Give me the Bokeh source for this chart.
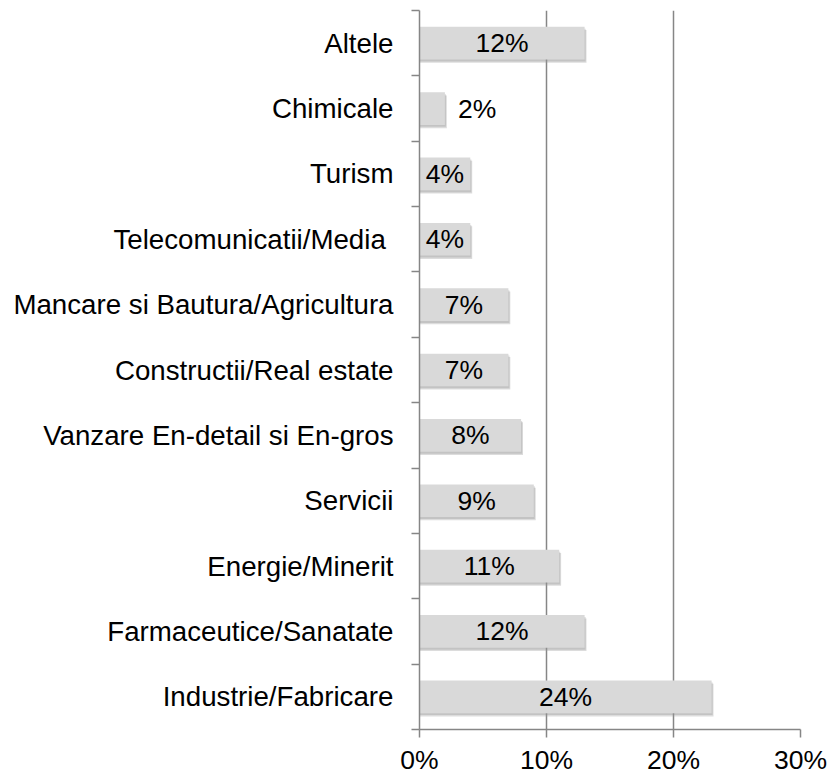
from bokeh.plotting import figure
from bokeh.models import ColumnDataSource, Range1d, FixedTicker, LabelSet
from bokeh.core.properties import value
from bokeh.embed import file_html
from bokeh.resources import INLINE

# Data (bottom to top)
categories = ["Industrie/Fabricare", "Farmaceutice/Sanatate", "Energie/Minerit",
              "Servicii", "Vanzare En-detail si En-gros", "Constructii/Real estate",
              "Mancare si Bautura/Agricultura", "Telecomunicatii/Media ", "Turism",
              "Chimicale", "Altele"]
values = [23, 13, 11, 9, 8, 7, 7, 4, 4, 2, 13]
value_labels = ["24%", "12%", "11%", "9%", "8%", "7%", "7%", "4%", "4%", "2%", "12%"]
x_ticks = [0, 10, 20, 30]
x_tick_labels = ["0%", "10%", "20%", "30%"]

idx = list(range(len(categories)))
FONT = "Liberation Sans"
GRID = "#868686"

p = figure(width=831, height=777, output_backend="svg", toolbar_location=None,
           x_range=Range1d(0, 30), y_range=Range1d(-0.5, len(categories) - 0.5))
p.min_border_left = 419
p.min_border_right = 31
p.min_border_top = 10
p.min_border_bottom = 0
p.outline_line_color = None
p.background_fill_color = "white"

# shadows
shadow_src = ColumnDataSource(dict(y=[i - 0.05 for i in idx], right=[v + 0.15 for v in values]))
p.hbar(y="y", left=0, right="right", height=0.5, source=shadow_src,
       fill_color="#9a9a9a", fill_alpha=0.35, line_color=None)
shadow_src2 = ColumnDataSource(dict(y=[i - 0.03 for i in idx], right=[v + 0.08 for v in values]))
p.hbar(y="y", left=0, right="right", height=0.5, source=shadow_src2,
       fill_color="#8a8a8a", fill_alpha=0.3, line_color=None)

src = ColumnDataSource(dict(y=idx, right=values))
p.hbar(y="y", left=0, right="right", height=0.5, source=src,
       fill_color="#d9d9d9", line_color=None)

inside = ColumnDataSource(dict(y=[i for i, v in zip(idx, values) if v >= 3],
                               x=[v / 2 for v in values if v >= 3],
                               lab=[l for l, v in zip(value_labels, values) if v >= 3]))
outside = ColumnDataSource(dict(y=[i for i, v in zip(idx, values) if v < 3],
                                x=[v for v in values if v < 3],
                                lab=[l for l, v in zip(value_labels, values) if v < 3]))
p.add_layout(LabelSet(x="x", y="y", text="lab", source=inside, text_align="center",
                      text_baseline="middle", text_font=value(FONT),
                      text_font_size="26.5px", text_color="black"))
p.add_layout(LabelSet(x="x", y="y", text="lab", source=outside, text_align="left",
                      x_offset=13, text_baseline="middle", text_font=value(FONT),
                      text_font_size="26.5px", text_color="black"))

# x axis
xa = p.xaxis[0]
xa.ticker = FixedTicker(ticks=x_ticks, minor_ticks=[])
xa.major_label_overrides = {t: l for t, l in zip(x_ticks, x_tick_labels)}
xa.axis_line_color = GRID
xa.axis_line_width = 1.5
xa.major_tick_line_color = GRID
xa.major_tick_line_width = 1.5
xa.major_tick_out = 8
xa.major_tick_in = 0
xa.minor_tick_line_color = None
xa.major_label_standoff = 7
xa.major_label_text_font = FONT
xa.major_label_text_font_size = "26.5px"
xa.major_label_text_color = "black"

# y axis
ya = p.yaxis[0]
ya.ticker = FixedTicker(ticks=idx, minor_ticks=[i - 0.5 for i in idx] + [len(idx) - 0.5])
ya.major_label_overrides = {i: c for i, c in zip(idx, categories)}
ya.axis_line_color = GRID
ya.axis_line_width = 1.5
ya.major_tick_line_color = None
ya.major_tick_out = 0
ya.major_tick_in = 0
ya.minor_tick_line_color = GRID
ya.minor_tick_line_width = 1.5
ya.minor_tick_out = 8
ya.minor_tick_in = 0
ya.major_label_standoff = 18
ya.major_label_text_font = FONT
ya.major_label_text_font_size = "27.7px"
ya.major_label_text_color = "black"

p.xgrid.grid_line_color = GRID
p.xgrid.grid_line_width = 1.5
p.ygrid.grid_line_color = None

open("out.html", "w").write(file_html(p, INLINE))
